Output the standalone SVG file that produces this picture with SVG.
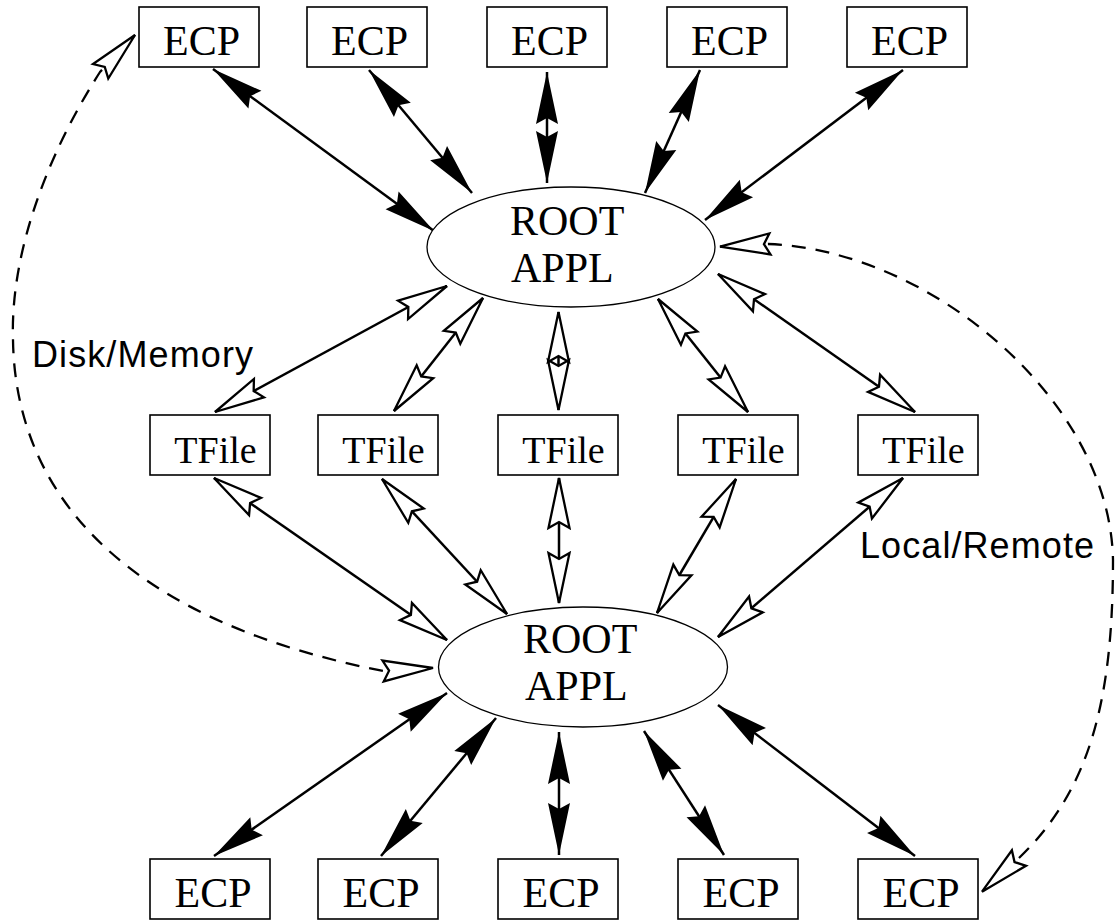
<svg xmlns="http://www.w3.org/2000/svg" width="1116" height="920" viewBox="0 0 1116 920">
<style>
.box{fill:#fff;stroke:#000;stroke-width:1.6}
.ell{fill:#fff;stroke:#000;stroke-width:1.3}
.serif{font-family:"Liberation Serif","Times New Roman",serif;fill:#000}
.ecp{font-size:42px;text-anchor:middle}
.tf{font-size:38px;text-anchor:middle}
.root{font-size:42px}
.sans{font-family:"Liberation Sans",Arial,sans-serif;font-size:36px;fill:#000}
.s{fill:none;stroke:#000;stroke-width:2.5;marker-start:url(#solid);marker-end:url(#solid)}
.o{fill:none;stroke:#000;stroke-width:2.5;marker-start:url(#open);marker-end:url(#open)}
.d{fill:none;stroke:#000;stroke-width:2.3;stroke-dasharray:14 10;marker-start:url(#open);marker-end:url(#open)}
</style>
<defs>
<marker id="solid" markerUnits="userSpaceOnUse" orient="auto-start-reverse" viewBox="-55 -13 58 26" markerWidth="58" markerHeight="26" refX="0" refY="0">
<path d="M0,0 L-52,-11 L-46,0 L-52,11 Z" fill="#000"/>
</marker>
<marker id="open" markerUnits="userSpaceOnUse" orient="auto-start-reverse" viewBox="-55 -14 60 28" markerWidth="60" markerHeight="28" refX="0" refY="0">
<path d="M0,0 L-50,-10.5 L-44,0 L-50,10.5 Z" fill="#fff" stroke="#000" stroke-width="2.3" stroke-dasharray="none"/>
</marker>
</defs>
<rect width="1116" height="920" fill="#fff"/>
<g id="connectors">
<line class="s" x1="213" y1="69" x2="434" y2="231"/>
<line class="s" x1="369" y1="70" x2="472" y2="193"/>
<line class="s" x1="547" y1="72" x2="547" y2="183"/>
<line class="s" x1="700" y1="70" x2="645" y2="193"/>
<line class="s" x1="903" y1="70" x2="705" y2="220"/>
<line class="o" x1="215" y1="412" x2="447" y2="286"/>
<line class="o" x1="394" y1="411" x2="483" y2="298"/>
<line class="o" x1="558.5" y1="410" x2="558.5" y2="312"/>
<line class="o" x1="748" y1="412" x2="658" y2="299"/>
<line class="o" x1="915" y1="412" x2="718" y2="274"/>
<line class="o" x1="214" y1="478" x2="447" y2="640"/>
<line class="o" x1="382" y1="479" x2="507" y2="614"/>
<line class="o" x1="559" y1="478" x2="559" y2="603"/>
<line class="o" x1="736" y1="479" x2="657" y2="613"/>
<line class="o" x1="903" y1="478" x2="718" y2="637"/>
<line class="s" x1="447" y1="693" x2="214" y2="856"/>
<line class="s" x1="496" y1="718" x2="381" y2="856"/>
<line class="s" x1="559" y1="732" x2="559" y2="855"/>
<line class="s" x1="644" y1="731" x2="724" y2="855"/>
<line class="s" x1="718" y1="705" x2="915" y2="856"/>
<path class="d" d="M135,35 L100,72 C50,150 10,250 13,340 C15,475 100,615 383,671 L433,668"/>
<path class="d" d="M720,246.7 L768,244 C930,250 1110,400 1113,560 C1113,700 1090,790 1019,858 L982,891.7"/>
</g>
<g id="ecp-top-1"><rect class="box" x="139" y="7" width="120" height="60"/><text class="serif ecp" x="201.5" y="55">ECP</text></g>
<g id="ecp-top-2"><rect class="box" x="307" y="7" width="120" height="60"/><text class="serif ecp" x="369.5" y="55">ECP</text></g>
<g id="ecp-top-3"><rect class="box" x="487" y="7" width="120" height="60"/><text class="serif ecp" x="549.5" y="55">ECP</text></g>
<g id="ecp-top-4"><rect class="box" x="667" y="7" width="120" height="60"/><text class="serif ecp" x="729.5" y="55">ECP</text></g>
<g id="ecp-top-5"><rect class="box" x="847" y="7" width="120" height="60"/><text class="serif ecp" x="909.5" y="55">ECP</text></g>
<g id="root-top"><ellipse class="ell" cx="571" cy="247" rx="144" ry="60"/><text class="serif root" x="510" y="235">ROOT</text><text class="serif root" x="511" y="282">APPL</text></g>
<g id="tfile-1"><rect class="box" x="150" y="415" width="120" height="60"/><text class="serif tf" x="215.5" y="463">TFile</text></g>
<g id="tfile-2"><rect class="box" x="318" y="415" width="120" height="60"/><text class="serif tf" x="383.5" y="463">TFile</text></g>
<g id="tfile-3"><rect class="box" x="498" y="415" width="120" height="60"/><text class="serif tf" x="563.5" y="463">TFile</text></g>
<g id="tfile-4"><rect class="box" x="678" y="415" width="120" height="60"/><text class="serif tf" x="743.5" y="463">TFile</text></g>
<g id="tfile-5"><rect class="box" x="858" y="415" width="120" height="60"/><text class="serif tf" x="923.5" y="463">TFile</text></g>
<g id="root-bottom"><ellipse class="ell" cx="583" cy="667" rx="144.5" ry="60"/><text class="serif root" x="523" y="653">ROOT</text><text class="serif root" x="525" y="700">APPL</text></g>
<g id="ecp-bot-1"><rect class="box" x="150" y="859" width="120" height="60"/><text class="serif ecp" x="213" y="907">ECP</text></g>
<g id="ecp-bot-2"><rect class="box" x="318" y="859" width="120" height="60"/><text class="serif ecp" x="381" y="907">ECP</text></g>
<g id="ecp-bot-3"><rect class="box" x="498" y="859" width="120" height="60"/><text class="serif ecp" x="561" y="907">ECP</text></g>
<g id="ecp-bot-4"><rect class="box" x="678" y="859" width="120" height="60"/><text class="serif ecp" x="741" y="907">ECP</text></g>
<g id="ecp-bot-5"><rect class="box" x="858" y="859" width="120" height="60"/><text class="serif ecp" x="921" y="907">ECP</text></g>
<g id="label-disk"><text class="sans" x="32" y="367" textLength="221">Disk/Memory</text></g>
<g id="label-local"><text class="sans" x="860" y="558" textLength="234">Local/Remote</text></g>
</svg>
